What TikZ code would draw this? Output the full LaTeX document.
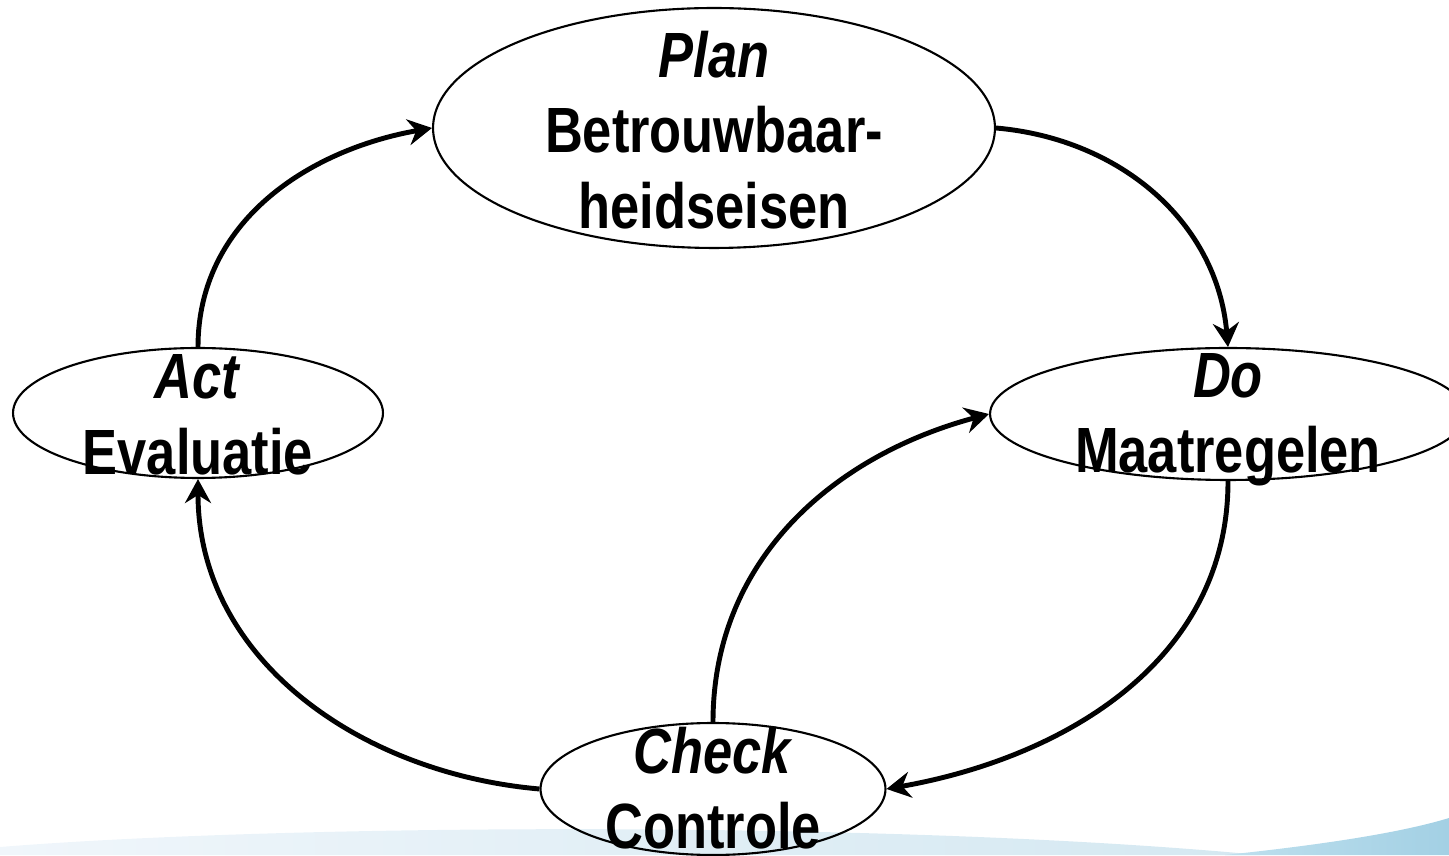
\documentclass[tikz,border=0pt]{standalone}
\usepackage{fontspec}
\setmainfont[FakeStretch=0.82]{Liberation Sans}
\usetikzlibrary{shapes.geometric,arrows.meta}
\definecolor{swooshlight}{RGB}{240,246,251}
\definecolor{swooshmid}{RGB}{212,232,241}
\definecolor{swooshpale}{RGB}{190,224,238}
\definecolor{swooshdark}{RGB}{163,208,228}

\begin{document}
\begin{tikzpicture}[x=0.02cm, y=0.02cm,
    stage/.style = {draw, ellipse, line width=1.2pt, inner sep=0pt},
    stagetext/.style = {align=center, inner sep=0pt, font=\fontsize{36.4}{43}\selectfont\bfseries},
    flow/.style = {line width=2.8pt, -{Stealth[length=0.48cm, width=0.52cm, inset=0.16cm]}}]
    \useasboundingbox (0,0) rectangle (1449,855);
    % background swoosh
    \shade[left color=swooshlight, right color=swooshmid]
        (0,0) -- (0,8) .. controls (300,32) and (900,34) .. (1260,0) -- cycle;
    \shade[left color=swooshpale, right color=swooshdark]
        (1225,0) .. controls (1320,10) and (1400,22) .. (1449,37) -- (1449,0) -- cycle;
    % stages
    \node[stage, minimum width=11.24cm, minimum height=4.8cm] (plan) at (714,727) {};
    \node[stage, minimum width=9.52cm, minimum height=2.64cm] (do) at (1228,441) {};
    \node[stage, minimum width=6.9cm, minimum height=2.64cm] (check) at (713,66) {};
    \node[stage, minimum width=7.4cm, minimum height=2.6cm] (act) at (198,442) {};
    \node[stagetext] (plantext) at (714,725) {\textit{Plan}\\Betrouwbaar-\\heidseisen};
    \node[stagetext] (dotext) at (1228,435) {\textit{Do}\\Maatregelen};
    \node[stagetext] (checktext) at (713,67) {\textit{Check}\\Controle};
    \node[stagetext] (acttext) at (198,440) {\textit{Act}\\Evaluatie};
    % cycle
    \draw[flow] (act.north) to[out=90, in=190] (plan.west);
    \draw[flow] (plan.east) to[out=-5, in=95] (do.north);
    \draw[flow] (do.south) to[out=-90, in=10] (check.east);
    \draw[flow] (check.west) to[out=175, in=-90] (act.south);
    \draw[flow] (check.north) to[out=90, in=195] (do.west);
\end{tikzpicture}
\end{document}
